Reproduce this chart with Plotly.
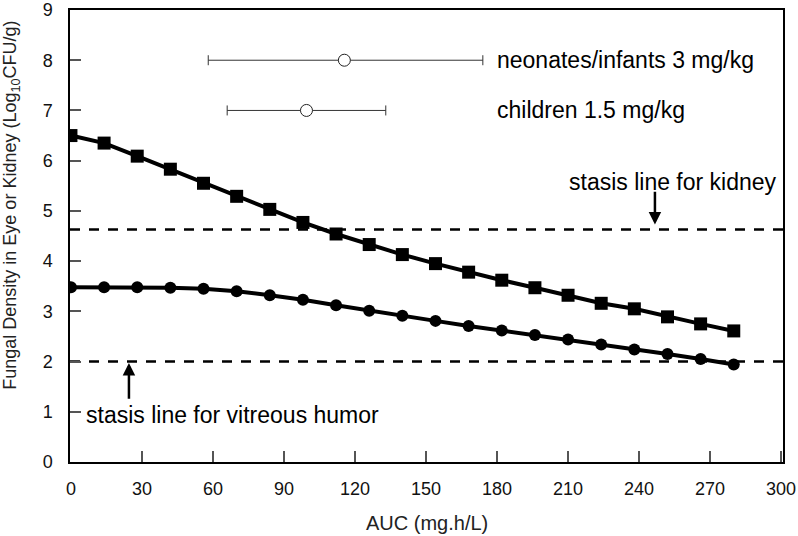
import plotly.graph_objects as go

auc = [0, 14, 28, 42, 56, 70, 84, 98, 112, 126, 140, 154, 168, 182, 196, 210, 224, 238, 252, 266, 280]
kidney = [6.50, 6.35, 6.09, 5.83, 5.55, 5.29, 5.03, 4.77, 4.54, 4.33, 4.13, 3.95, 3.78, 3.62, 3.47, 3.32, 3.16, 3.05, 2.89, 2.75, 2.61]
vitreous = [3.48, 3.48, 3.48, 3.47, 3.45, 3.40, 3.32, 3.23, 3.12, 3.01, 2.91, 2.81, 2.71, 2.62, 2.53, 2.44, 2.34, 2.24, 2.15, 2.05, 1.94]

group_labels = ["neonates/infants 3 mg/kg", "children 1.5 mg/kg"]
group_auc = [115.5, 99.5]
group_low = [58, 66]
group_high = [174, 133]
group_y = [8, 7]

stasis_kidney = 4.63
stasis_vitreous = 2.0

x_ticks = [0, 30, 60, 90, 120, 150, 180, 210, 240, 270, 300]
y_ticks = [0, 1, 2, 3, 4, 5, 6, 7, 8, 9]

FONT = "Liberation Sans, Arial, sans-serif"

fig = go.Figure()

fig.add_trace(go.Scatter(
    x=auc, y=kidney, mode="lines+markers",
    line=dict(color="black", width=4),
    marker=dict(symbol="square", size=13, color="black"),
    showlegend=False,
))
fig.add_trace(go.Scatter(
    x=auc, y=vitreous, mode="lines+markers",
    line=dict(color="black", width=4),
    marker=dict(symbol="circle", size=12, color="black"),
    showlegend=False,
))

for i in range(len(group_labels)):
    fig.add_trace(go.Scatter(
        x=[group_auc[i]], y=[group_y[i]], mode="markers",
        marker=dict(symbol="circle", size=12, color="white", line=dict(color="#222", width=1)),
        error_x=dict(type="data", symmetric=False,
                     array=[group_high[i] - group_auc[i]],
                     arrayminus=[group_auc[i] - group_low[i]],
                     color="#333", thickness=1, width=5),
        showlegend=False,
    ))
    fig.add_annotation(x=179, y=group_y[i], xref="x", yref="y", text=group_labels[i],
                       showarrow=False, xanchor="left", yanchor="middle",
                       font=dict(family=FONT, size=23, color="black"))

for val in [stasis_kidney, stasis_vitreous]:
    fig.add_shape(type="line", xref="x domain", yref="y", x0=0, x1=1, y0=val, y1=val,
                  line=dict(color="black", width=2.5, dash="10px,9px"), layer="below")

# stasis labels with arrows
fig.add_annotation(x=254.3, y=5.58, xref="x", yref="y", text="stasis line for kidney",
                   showarrow=False, xanchor="center", yanchor="middle",
                   font=dict(family=FONT, size=23, color="black"))
fig.add_annotation(x=246.7, y=stasis_kidney + 0.1, ax=246.7, ay=5.41, xref="x", yref="y",
                   axref="x", ayref="y", text="", showarrow=True, arrowhead=2,
                   arrowsize=1, arrowwidth=2.5, arrowcolor="black")
fig.add_annotation(x=5.5, y=0.94, xref="x", yref="y", text="stasis line for vitreous humor",
                   showarrow=False, xanchor="left", yanchor="middle",
                   font=dict(family=FONT, size=23, color="black"))
fig.add_annotation(x=24.5, y=stasis_vitreous - 0.03, ax=24.5, ay=1.23, xref="x", yref="y",
                   axref="x", ayref="y", text="", showarrow=True, arrowhead=2,
                   arrowsize=1, arrowwidth=2.5, arrowcolor="black")

# axis titles
fig.add_annotation(x=0.5, y=-(523 - 462) / 452, xref="paper", yref="paper",
                   text="AUC (mg.h/L)", showarrow=False, xanchor="center", yanchor="middle",
                   font=dict(family=FONT, size=20, color="#222"))
fig.add_annotation(x=0, xshift=-58, y=0.567, xref="paper", yref="paper",
                   text="Fungal Density in Eye or Kidney (Log<sub>10</sub>CFU/g)", textangle=-90,
                   showarrow=False, xanchor="center", yanchor="middle",
                   font=dict(family=FONT, size=18, color="#222"))

fig.update_layout(
    width=798, height=536,
    margin=dict(l=70, r=15, t=10, b=74, autoexpand=False),
    paper_bgcolor="white", plot_bgcolor="white",
    font=dict(family=FONT, color="black"),
    showlegend=False,
)
fig.update_xaxes(
    range=[-0.4, 300.8], tickvals=x_ticks, ticks="inside", ticklen=11, tickwidth=1.5,
    tickcolor="#555", showline=True, linecolor="black", linewidth=1.5, mirror=True,
    showgrid=False, zeroline=False, tickfont=dict(family=FONT, size=18, color="#111"),
    ticklabelstandoff=10, automargin=False, ticklabeloverflow="allow",
)
fig.update_yaxes(
    range=[0, 9], tickvals=y_ticks, ticks="inside", ticklen=11, tickwidth=1.5,
    tickcolor="#555", showline=True, linecolor="black", linewidth=1.5, mirror=True,
    showgrid=False, zeroline=False, tickfont=dict(family=FONT, size=18, color="#111"),
    ticklabelstandoff=12, automargin=False, ticklabeloverflow="allow",
)

fig.write_html("out.html", config={"displayModeBar": False},
               post_script="document.body.style.margin='0';document.body.style.padding='0';")
